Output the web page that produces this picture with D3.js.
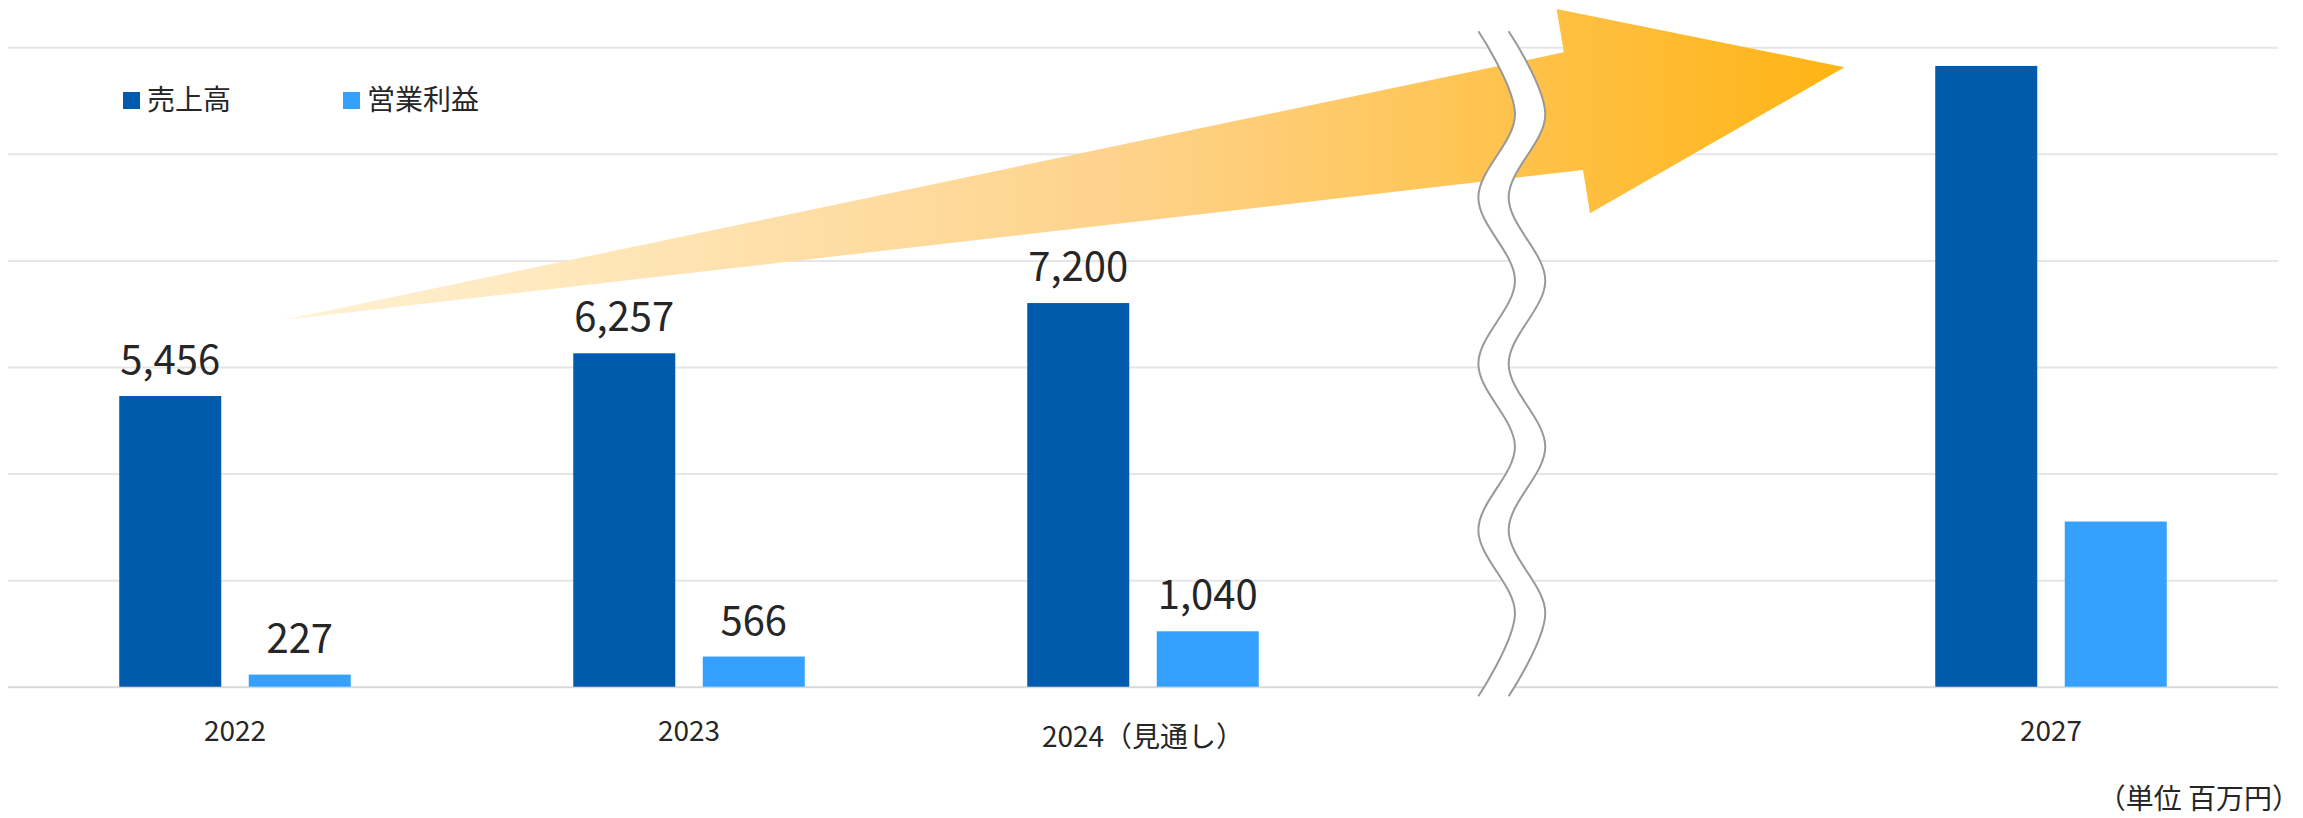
<!DOCTYPE html>
<html>
<head>
<meta charset="utf-8">
<script src="https://cdn.jsdelivr.net/npm/d3@7"></script>
<style>
  html, body { margin: 0; padding: 0; background: #fff; }
  svg { display: block; }
  text { font-family: "Noto Sans CJK JP", "Noto Sans", sans-serif; fill: #262626; }
</style>
</head>
<body>
<svg id="chart" width="2303" height="818"></svg>
<script>
// Fiscal years (the empty slot is where the axis break sits)
const categories = ["2022", "2023", "2024（見通し）", "", "2027"];
const seriesNames = ["売上高", "営業利益"];
// 百万円
const sales = [5456, 6257, 7200, null, 11650];
const operatingProfit = [227, 566, 1040, null, 3100];
// which years carry a value label
const labelled = [true, true, true, false, false];
const yTicks = [0, 2000, 4000, 6000, 8000, 10000, 12000];
const unitLabel = "（単位 百万円）";
const colors = ["#005bac", "#36a0ff"];

const svg = d3.select("#chart");
const W = 2303, H = 818;
const plotLeft = 8, plotRight = 2278, plotTop = 47.3, plotBottom = 686.7;

const x0 = d3.scaleBand().domain(categories).range([plotLeft, plotRight]).padding(0);
const x1 = d3.scaleBand().domain(seriesNames).range([0, x0.bandwidth()])
  .paddingInner(0.2124).paddingOuter(0.859);
const y = d3.scaleLinear().domain([0, 12000]).range([plotBottom, plotTop]);
const fmt = d3.format(",");

const seriesValues = [sales, operatingProfit];

// horizontal gridlines
const grid = svg.append("g").attr("transform", `translate(${plotLeft},0)`)
  .call(d3.axisLeft(y).tickValues(yTicks).tickSize(-(plotRight - plotLeft)).tickFormat(""));
grid.select(".domain").remove();
grid.selectAll(".tick line")
  .attr("stroke", d => d === 0 ? "#d9d9d9" : "#e6e6e6")
  .attr("stroke-width", 2);

// growth arrow, positioned in band/value space
const bx = (i, f) => x0(categories[i]) + f * x0.bandwidth();
const arrowSpec = [
  [0, 0.606, 6882],   // tail
  [3, 0.427, 11906],  // shaft top
  [3, 0.411, 12719],  // upper barb
  [4, 0.045, 11625],  // tip
  [3, 0.4846, 8885],  // lower barb
  [3, 0.4692, 9697]   // shaft bottom
];
const arrowPts = arrowSpec.map(([i, f, v]) => [bx(i, f), y(v)]);
const defs = svg.append("defs");
const grad = defs.append("linearGradient").attr("id", "arrowGrad")
  .attr("gradientUnits", "userSpaceOnUse")
  .attr("x1", arrowPts[0][0]).attr("y1", 0)
  .attr("x2", arrowPts[3][0]).attr("y2", 0);
grad.append("stop").attr("offset", 0).attr("stop-color", "#fff2d4");
grad.append("stop").attr("offset", 0.55).attr("stop-color", "#fed289");
grad.append("stop").attr("offset", 1).attr("stop-color", "#ffb414");
svg.append("path")
  .attr("d", d3.line()(arrowPts) + "Z")
  .attr("fill", "url(#arrowGrad)");

// bars
const groups = svg.append("g").selectAll("g")
  .data(categories.map((c, i) => ({ c, i })))
  .join("g")
  .attr("transform", d => `translate(${x0(d.c)},0)`);

groups.selectAll("rect")
  .data(d => seriesNames.map((s, k) => ({ s, k, v: seriesValues[k][d.i] })).filter(e => e.v != null))
  .join("rect")
  .attr("x", e => x1(e.s))
  .attr("width", x1.bandwidth())
  .attr("y", e => y(e.v))
  .attr("height", e => y(0) - y(e.v))
  .attr("fill", e => colors[e.k]);

groups.filter(d => labelled[d.i]).selectAll("text.val")
  .data(d => seriesNames.map((s, k) => ({ s, k, v: seriesValues[k][d.i] })))
  .join("text")
  .attr("class", "val")
  .attr("x", e => x1(e.s) + x1.bandwidth() / 2)
  .attr("y", e => y(e.v) - 22)
  .attr("text-anchor", "middle")
  .attr("font-size", 40)
  .text(e => fmt(e.v));

// category labels
svg.append("g").selectAll("text")
  .data(categories.filter(c => c !== ""))
  .join("text")
  .attr("x", c => x0(c) + x0.bandwidth() / 2)
  .attr("y", c => /^[\x00-\x7f]*$/.test(c) ? 741 : 747)
  .attr("text-anchor", "middle")
  .attr("font-size", 28)
  .text(c => c);

// axis break marker
const breakCenter = bx(3, 0.279);
const breakGap = 30.3, breakAmp = 18.3;
const breakTop = y(12000) - 16, breakBottom = y(0) + 9.5;
const waveN = 8;
const wave = d3.range(waveN + 1).map(k => ({
  y: breakTop + k * (breakBottom - breakTop) / waveN,
  dx: (k % 2 === 0 ? -breakAmp : breakAmp)
}));
svg.append("path")
  .attr("d", d3.area().curve(d3.curveCatmullRom)
    .y(d => d.y)
    .x0(d => breakCenter + d.dx)
    .x1(d => breakCenter + breakGap + d.dx)(wave))
  .attr("fill", "#fff");
[0, breakGap].forEach(off => {
  svg.append("path")
    .attr("d", d3.line().curve(d3.curveCatmullRom)
      .x(d => breakCenter + off + d.dx).y(d => d.y)(wave))
    .attr("fill", "none")
    .attr("stroke", "#999")
    .attr("stroke-width", 2);
});

// legend
const legendX = [123, 343];
const legend = svg.append("g").selectAll("g")
  .data(seriesNames)
  .join("g")
  .attr("transform", (s, k) => `translate(${legendX[k]},92)`);
legend.append("rect").attr("width", 17).attr("height", 17).attr("fill", (s, k) => colors[k]);
legend.append("text").attr("x", 24).attr("y", 18).attr("font-size", 28).text(s => s);

// unit note
svg.append("text")
  .attr("x", 2300).attr("y", 809)
  .attr("text-anchor", "end")
  .attr("font-size", 28)
  .text(unitLabel);
</script>
</body>
</html>
